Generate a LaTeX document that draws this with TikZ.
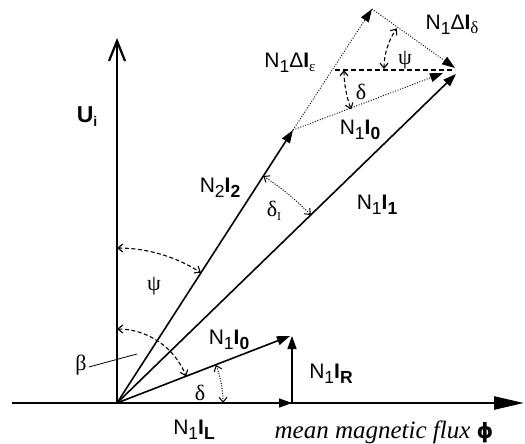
\documentclass[tikz,border=0pt]{standalone}
\usepackage{fontspec}
\setmainfont{Liberation Sans}
\newfontfamily\grk{Liberation Serif}
\newfontfamily\tms{Liberation Serif}
\newfontfamily\dvs{DejaVu Sans}
\usetikzlibrary{arrows.meta}
\newcommand{\lsub}[1]{\raisebox{-5pt}{\fontsize{17.5}{17.5}\selectfont #1}}
\newcommand{\NI}[2]{N\lsub{#1}\textbf{I}\lsub{\textbf{#2}}}
\tikzset{
  vec/.style={line width=1.6pt, -{Triangle[length=13pt,width=9pt]}},
  axisline/.style={line width=2.6pt},
  dotvec/.style={line width=0.9pt, dash pattern=on 1pt off 1.6pt, -{Triangle[length=13pt,width=9pt]}},
  dasharc/.style={line width=1.1pt, dash pattern=on 4pt off 2.5pt, {Straight Barb[length=5pt,width=8pt]}-{Straight Barb[length=5pt,width=8pt]}},
  dotarc/.style={line width=1pt, dash pattern=on 1pt off 1.5pt, {Straight Barb[length=5pt,width=8pt]}-{Straight Barb[length=5pt,width=8pt]}},
  lbl/.style={font=\fontsize{21}{21}\selectfont, inner sep=0pt},
  grklbl/.style={font=\grk\fontsize{22}{22}\selectfont, inner sep=0pt},
}
\begin{document}
\begin{tikzpicture}[x=1pt,y=-1pt]
\useasboundingbox (0,0) rectangle (525,444);
% points
\coordinate (O) at (117,403);
\coordinate (Xs) at (12,403);
\coordinate (Xe) at (524,403);
\coordinate (Ye) at (117,38);
\coordinate (L) at (292,403);
\coordinate (R) at (292,336);
\coordinate (I0) at (290,336);
\coordinate (P) at (293,130);
\coordinate (I1) at (456,74);
\coordinate (Q) at (372,9);
\coordinate (D) at (455,68);
\coordinate (I0u) at (443,73);
\coordinate (H) at (335,70);
\coordinate (He) at (455,70);
\coordinate (Cd) at (455,70);
\coordinate (Cp) at (455,69);
\coordinate (bt) at (137,354);
% axes
\draw[axisline, -{Triangle[length=30pt,width=13pt]}] (Xs) -- (Xe);
\draw[line width=2.4pt, -{Straight Barb[length=20pt,width=16pt,line width=2.2pt]}] (O) -- (Ye);
% vectors
\draw[vec] (O) -- (L);
\draw[vec] (L) -- (R);
\draw[vec] (O) -- (I0);
\draw[vec] (O) -- (P);
\draw[vec] (O) -- (I1);
\draw[dotvec] (P) -- (Q);
\draw[dotvec] (Q) -- (D);
\draw[dotvec] (P) -- (I0u);
\draw[line width=1.1pt, dash pattern=on 5pt off 3pt] (H) -- (He);
% angle arcs
\draw[dasharc] (O) ++(-90:155) arc[start angle=-90, end angle=-57.2, radius=155];
\draw[dasharc] (O) ++(-90:74) arc[start angle=-90, end angle=-21.06, radius=74];
\draw[dotarc] (O) ++(-21.06:106) arc[start angle=-21.06, end angle=0, radius=106];
\draw[dotarc] (O) ++(-57.2:270) arc[start angle=-57.2, end angle=-44.1, radius=270];
\draw[dasharc] (Cd) ++(180:111) arc[start angle=180, end angle=159.2, radius=111];
\draw[dasharc] (Cp) ++(180:71) arc[start angle=180, end angle=215, radius=71];
% labels
\node[inner sep=0pt, font=\fontsize{23}{23}\selectfont] (ui) at (87,117) {\textbf{U}\raisebox{-4pt}{\fontsize{14}{14}\selectfont\textbf{i}}};
\node[lbl] (n2i2) at (220,188) {\NI{2}{2}};
\node[lbl] (dle) at (290,63) {N\lsub{1}Δ\textbf{I}\raisebox{-4pt}{\grk\fontsize{15}{15}\selectfont ε}};
\node[lbl] (dld) at (452,25) {N\lsub{1}Δ\textbf{I}\raisebox{-4pt}{\grk\fontsize{17}{17}\selectfont δ}};
\node[lbl] (i0u) at (360,130) {\NI{1}{0}};
\node[lbl] (i1) at (377,205) {\NI{1}{1}};
\node[grklbl] (dI) at (274,211) {δ\raisebox{-4pt}{\fontsize{12}{12}\selectfont I}};
\node[grklbl] (psiu) at (405,60) {ψ};
\node[grklbl] (delu) at (361,92) {δ};
\node[grklbl] (psil) at (154,286) {ψ};
\node[grklbl] (beta) at (81,365) {β};
\node[grklbl] (dell) at (200,393) {δ};
\node[lbl] (i0l) at (229,340) {\NI{1}{0}};
\node[lbl] (ir) at (331,374) {\NI{1}{R}};
\node[lbl] (il) at (194,430) {\NI{1}{L}};
\node[inner sep=0pt, font=\tms\itshape\fontsize{25}{25}\selectfont] (flux) at (384,432) {mean magnetic flux {\dvs\bfseries\upshape\fontsize{21}{21}\selectfont ϕ}};
\draw[line width=0.8pt] (beta.east) ++(2pt,-2pt) -- (bt);
\end{tikzpicture}
\end{document}
